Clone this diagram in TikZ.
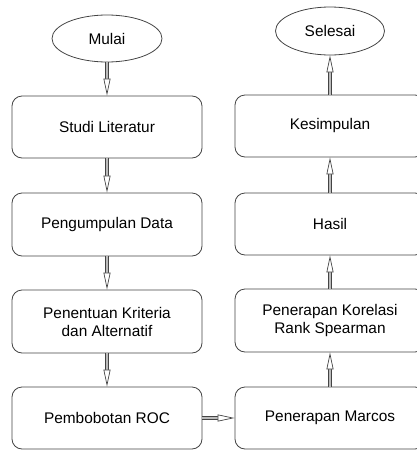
\documentclass[tikz,border=0pt]{standalone}
\usepackage{fontspec}
\setmainfont{Liberation Sans}
\usetikzlibrary{arrows.meta,decorations.markings,shapes.geometric}
\definecolor{linec}{HTML}{444444}
\definecolor{shaftc}{HTML}{BBBBBB}
\begin{document}
\begin{tikzpicture}[x=1pt,y=1pt,
  font=\fontsize{15.4}{18}\selectfont,
  box/.style={draw=linec, line width=0.8pt, rounded corners=10pt,
    minimum width=190pt, minimum height=62pt, align=center, inner sep=0pt},
  term/.style={draw=linec, ellipse, line width=0.8pt, minimum width=110pt,
    minimum height=47pt, inner sep=0pt},
  flow/.style={draw=linec, double=shaftc, double distance=2.4pt, line width=0.7pt,
    shorten >=15pt,
    postaction={decorate, decoration={markings, mark=at position 1 with
      {\pgfsetinnerlinewidth{0pt}\arrow[linec, line width=0.7pt]{Triangle[open, length=17pt, width=7pt, fill=white]}}}}}]
\useasboundingbox (0,0) rectangle (417,-450);
\node[term] (mulai) at (107,-38.5) {Mulai};
\node[box] (studi) at (107,-127) {Studi Literatur};
\node[box, minimum height=63pt] (kumpul) at (107,-224.5) {Pengumpulan Data};
\node[box, minimum height=63pt] (kriteria) at (107,-321.5) {Penentuan Kriteria\\dan Alternatif};
\node[box] (roc) at (107,-418) {Pembobotan ROC};
\node[box] (marcos) at (330,-418) {Penerapan Marcos};
\node[box, minimum height=63pt] (spear) at (330,-320.5) {Penerapan Korelasi\\Rank Spearman};
\node[box] (hasil) at (330,-224) {Hasil};
\node[box] (kesim) at (330,-126) {Kesimpulan};
\node[term, minimum width=109pt, minimum height=48pt] (selesai) at (330,-31) {Selesai};
\draw[flow] (mulai) -- (studi);
\draw[flow] (studi) -- (kumpul);
\draw[flow] (kumpul) -- (kriteria);
\draw[flow] (kriteria) -- (roc);
\draw[flow] (roc) -- (marcos);
\draw[flow] (marcos) -- (spear);
\draw[flow] (spear) -- (hasil);
\draw[flow] (hasil) -- (kesim);
\draw[flow] (kesim) -- (selesai);
\end{tikzpicture}
\end{document}
